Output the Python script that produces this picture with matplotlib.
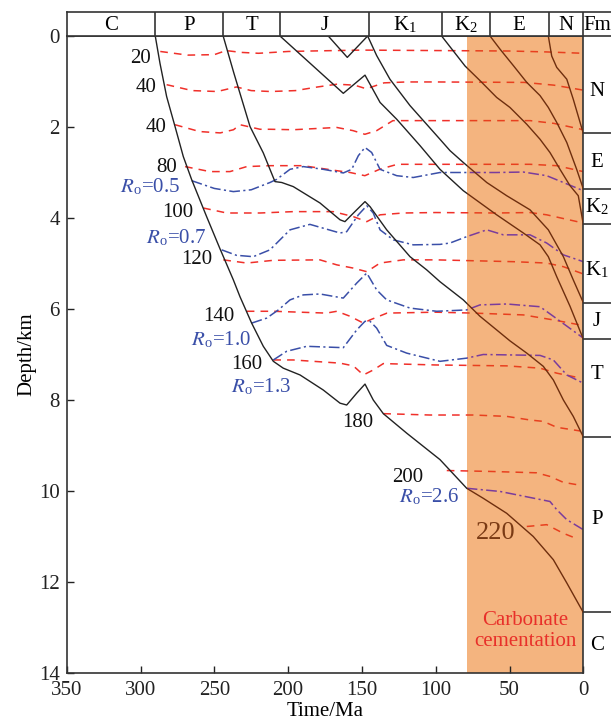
import matplotlib
matplotlib.use("Agg")
from matplotlib import pyplot as plt
from matplotlib.patches import Rectangle

plt.rcParams['font.family'] = ['Liberation Serif', 'DejaVu Serif']
plt.rcParams['mathtext.fontset'] = 'stix'

# ---- data (time in Ma, depth in km) ----
# burial curves
c_top_t = [290, 286.8, 282.3, 276.6, 271, 265.3, 255.2, 246.1, 237.1, 232.6, 224.7, 216.8, 210, 203.3, 191.9, 176.2, 164.8, 160.3, 153.5, 147.9, 142.3, 135.5, 119.6, 97.1, 79, 67.8, 51.9, 33.9, 20.3, 11.2, 0]
c_top_d = [0, 0.6, 1.33, 1.99, 2.65, 3.16, 3.97, 4.68, 5.36, 5.73, 6.31, 6.82, 7.15, 7.3, 7.45, 7.78, 8.07, 8.11, 7.85, 7.65, 8.0, 8.3, 8.73, 9.31, 9.94, 10.16, 10.49, 11.0, 11.51, 12.02, 12.67]
p_top_t = [244, 236.7, 225.8, 216.8, 208.9, 204.3, 196.5, 178.4, 164.8, 161.5, 156, 147.9, 144.5, 133.2, 117.4, 106.1, 97.1, 81.3, 70, 58.7, 49.7, 38.3, 27.1, 20.3, 13.5, 6.8, 0]
p_top_d = [0, 0.82, 1.99, 2.57, 3.2, 3.22, 3.31, 3.67, 4.04, 4.08, 3.9, 3.64, 3.75, 4.26, 4.85, 5.14, 5.4, 5.8, 6.16, 6.46, 6.7, 6.97, 7.26, 7.56, 8.0, 8.36, 8.81]
t_top_t = [205.5, 162.6, 147.9, 137.7, 126.4, 110.6, 97.1, 81.3, 58.7, 40.6, 29.3, 23.7, 18, 9, 0]
t_top_d = [0, 1.26, 0.86, 1.46, 1.83, 2.41, 2.93, 3.4, 3.93, 4.33, 4.59, 4.85, 5.29, 5.94, 6.66]
j_mid_t = [172.8, 159.9, 146.1, 140, 131, 117.4, 97.1, 90.3, 81.3, 65.4, 51.9, 36.1, 23.7, 13.5, 6.8, 0]
j_mid_d = [0, 0.47, 0, 0.43, 0.95, 1.53, 2.27, 2.52, 2.78, 3.22, 3.51, 3.82, 4.26, 4.85, 5.36, 5.86]
k1_top_t = [96, 80.1, 70, 58.7, 49.7, 38.3, 29.3, 22.6, 15.8, 9, 3.4, 0]
k1_top_d = [0, 0.66, 0.98, 1.35, 1.57, 1.94, 2.27, 2.56, 2.93, 3.29, 3.51, 4.14]
k2_top_t = [63.2, 56.4, 47.4, 38.3, 29.3, 23.7, 18, 11.2, 4.5, 0]
k2_top_d = [0, 0.29, 0.65, 1.02, 1.31, 1.57, 1.9, 2.34, 2.93, 3.36]
e_top_t = [23.7, 21.4, 18, 11.2, 6.8, 0]
e_top_d = [0, 0.44, 0.69, 0.95, 1.39, 2.14]

# isotherms (time, depth)
iso_20_t = [286.6, 268, 250, 242, 232, 220, 200, 185, 150, 100, 50, 25, 0]
iso_20_d = [0.34, 0.42, 0.41, 0.32, 0.36, 0.38, 0.34, 0.33, 0.31, 0.32, 0.33, 0.35, 0.38]
iso_40_t = [282.3, 265, 248, 235, 225, 212, 195, 180, 167, 155, 147, 135, 120, 100, 40, 20, 0]
iso_40_d = [1.07, 1.2, 1.22, 1.12, 1.2, 1.22, 1.2, 1.12, 1.06, 1.08, 1.16, 1.03, 1.01, 1.01, 1.02, 1.08, 1.19]
iso_60_t = [276.6, 260, 246, 237, 232.6, 219, 212, 196.5, 167, 156, 148, 140, 129, 100, 36, 20, 0]
iso_60_d = [1.95, 2.1, 2.13, 2.06, 1.95, 2.05, 2.05, 2.06, 2.01, 2.08, 2.16, 2.08, 1.86, 1.86, 1.86, 1.92, 2.06]
iso_80_t = [269.8, 253, 239.4, 228, 212, 190, 167, 158, 148, 138, 126, 100, 36, 18, 0]
iso_80_d = [2.87, 2.98, 2.98, 2.87, 2.85, 2.85, 2.96, 3.0, 3.07, 2.93, 2.82, 2.82, 2.82, 2.85, 2.98]
iso_100_t = [257.5, 241.6, 219, 196.5, 169.4, 155.8, 146.7, 137.7, 122, 100, 58.7, 36, 24.8, 0]
iso_100_d = [3.78, 3.89, 3.89, 3.86, 3.86, 3.97, 4.08, 3.93, 3.89, 3.88, 3.89, 3.88, 3.93, 4.11]
iso_120_t = [243.9, 228, 210, 178.4, 167, 156, 146.7, 137.7, 122, 100, 47.4, 24.8, 13.5, 0]
iso_120_d = [4.92, 4.99, 4.93, 4.92, 5.03, 5.1, 5.18, 4.99, 4.92, 4.92, 4.96, 4.99, 5.07, 5.23]
iso_140_t = [228, 210, 174, 167, 158, 149, 144.5, 133, 100, 74.5, 40.6, 20.3, 2.2, 0]
iso_140_d = [6.05, 6.05, 6.09, 6.05, 6.16, 6.31, 6.24, 6.09, 6.07, 6.09, 6.13, 6.24, 6.35, 6.37]
iso_160_t = [210, 196.5, 164.8, 155.8, 149, 142.3, 135.5, 100, 51.9, 29.3, 18, 4.5]
iso_160_d = [7.12, 7.12, 7.19, 7.25, 7.45, 7.34, 7.2, 7.23, 7.25, 7.3, 7.41, 7.5]
iso_180_t = [135.5, 104, 74.5, 51.9, 36, 27.1, 18, 2.2]
iso_180_d = [8.3, 8.33, 8.33, 8.36, 8.44, 8.47, 8.6, 8.68]
iso_200_t = [92.5, 63.2, 31.6, 22.6, 13.5, 4.5]
iso_200_d = [9.55, 9.57, 9.6, 9.68, 9.81, 9.86]
iso_220_t = [38.3, 24.8, 13.5, 3.4]
iso_220_d = [10.78, 10.74, 10.93, 11.06]

# vitrinite reflectance lines
ro_05_t = [265.3, 250, 237.1, 225, 212.3, 207.7, 198.7, 189.7, 176.2, 162.6, 156.9, 152.4, 147.9, 143.4, 137.7, 126.4, 115.2, 97.1, 76.8, 58.7, 40.6, 24.8, 13.5, 0]
ro_05_d = [3.18, 3.35, 3.42, 3.38, 3.22, 3.15, 2.93, 2.87, 2.93, 3.01, 2.93, 2.63, 2.45, 2.56, 2.93, 3.07, 3.11, 3.0, 3.0, 3.0, 2.99, 3.07, 3.22, 3.4]
ro_07_t = [245, 235, 223.6, 212.3, 198.7, 185.2, 164.8, 160.3, 152.4, 146.7, 142.3, 137.7, 128.7, 115.2, 97.1, 90.3, 79, 65.4, 54.2, 36.1, 24.8, 13.5, 0]
ro_07_d = [4.7, 4.82, 4.85, 4.7, 4.26, 4.14, 4.33, 4.3, 3.93, 3.73, 3.89, 4.26, 4.48, 4.59, 4.58, 4.55, 4.41, 4.26, 4.37, 4.37, 4.55, 4.81, 4.96]
ro_10_t = [224.7, 214.5, 206.6, 198.7, 189.7, 178.4, 162.6, 153.5, 146.7, 140, 133.2, 117.4, 99.3, 79, 70, 51.9, 29.3, 20.3, 0]
ro_10_d = [6.31, 6.2, 6.02, 5.8, 5.69, 5.67, 5.76, 5.43, 5.21, 5.58, 5.8, 5.98, 6.05, 6.02, 5.91, 5.89, 5.95, 6.16, 6.64]
ro_13_t = [210, 201, 187.4, 162.6, 153.5, 147.9, 144.5, 140, 133.2, 119.6, 97.1, 79, 67.8, 29.3, 20.3, 11.2, 0]
ro_13_d = [7.12, 6.93, 6.82, 6.85, 6.46, 6.27, 6.27, 6.42, 6.8, 6.97, 7.15, 7.08, 7.0, 7.02, 7.12, 7.45, 7.63]
ro_26_t = [79, 56.4, 22.6, 18, 11.2, 0]
ro_26_d = [9.94, 10.01, 10.23, 10.41, 10.63, 10.85]

# stratigraphy
period_names = ['C', 'P', 'T', 'J', r'K$_{\mathregular{1}}$', r'K$_{\mathregular{2}}$', 'E', 'N']
period_bounds = [350, 290, 244, 205.5, 145.5, 96, 63.5, 23.5, 0]
fm_names = ['N', 'E', r'K$_{\mathregular{2}}$', r'K$_{\mathregular{1}}$', 'J', 'T', 'P', 'C']
fm_bounds = [2.14, 3.36, 4.14, 5.86, 6.66, 8.81, 12.67]
cement_start = 79

# ---- figure ----
fig = plt.figure(figsize=(6.11, 7.26), dpi=100)
L, R = 66.7/611, 583.3/611
B, T = 1-673/726, 1-36/726
ax = fig.add_axes([L, B, R-L, T-B])
ax.set_xlim(350, 0)
ax.set_ylim(14, 0)

BLACK, BROWN = '#222222', '#6e2e0e'
RED, RED_IN = '#f0302a', '#e8401e'
BLUE, PURPLE = '#3a4fa8', '#7a3c9c'

ax.axvspan(cement_start, 0, color='#f4b47f', lw=0, zorder=0)
out_rect = Rectangle((cement_start, 0), 350-cement_start, 14, transform=ax.transData)
in_rect = Rectangle((0, 0), cement_start, 14, transform=ax.transData)

def two_tone(t, d, c_out, c_in, **kw):
    # same line drawn twice: normal colour outside the shaded band, tinted inside it
    l1, = ax.plot(t, d, color=c_out, **kw)
    l1.set_clip_path(out_rect)
    l2, = ax.plot(t, d, color=c_in, **kw)
    l2.set_clip_path(in_rect)

for t, d in [(c_top_t, c_top_d), (p_top_t, p_top_d), (t_top_t, t_top_d), (j_mid_t, j_mid_d),
             (k1_top_t, k1_top_d), (k2_top_t, k2_top_d), (e_top_t, e_top_d)]:
    two_tone(t, d, BLACK, BROWN, lw=1.0, zorder=3)

for t, d in [(iso_20_t, iso_20_d), (iso_40_t, iso_40_d), (iso_60_t, iso_60_d), (iso_80_t, iso_80_d),
             (iso_100_t, iso_100_d), (iso_120_t, iso_120_d), (iso_140_t, iso_140_d), (iso_160_t, iso_160_d),
             (iso_180_t, iso_180_d), (iso_200_t, iso_200_d), (iso_220_t, iso_220_d)]:
    two_tone(t, d, RED, RED_IN, lw=1.1, dashes=(5, 4), zorder=2)

for t, d in [(ro_05_t, ro_05_d), (ro_07_t, ro_07_d), (ro_10_t, ro_10_d), (ro_13_t, ro_13_d), (ro_26_t, ro_26_d)]:
    two_tone(t, d, BLUE, PURPLE, lw=1.1, dashes=(7, 2.2, 1.4, 2.2), zorder=2)

# labels
fs = 15
iso_labels = [('20', 300.3, 0.50), ('40', 296.3, 1.14), ('40', 289.6, 2.0), ('80', 282.1, 2.90),
              ('100', 274.7, 3.89), ('120', 261.7, 4.92), ('140', 246.8, 6.17), ('160', 227.8, 7.23),
              ('180', 152.6, 8.50), ('200', 118.8, 9.71)]
for s, x, y in iso_labels:
    ax.text(x, y, s, ha='center', va='center', fontsize=fs, color='#111111')
ax.text(59.1, 10.92, '220', ha='center', va='center', fontsize=19, color='#7a3a14')

ro_labels = [('0.5', 293.3, 3.31), ('0.7', 275.6, 4.44), ('1.0', 245.1, 6.68), ('1.3', 218, 7.71), ('2.6', 104.5, 10.13)]
for s, x, y in ro_labels:
    ax.text(x, y, r'$R_{\mathregular{o}}$=' + s, ha='center', va='center', fontsize=fs, color=BLUE)

ax.text(39.5, 13.08, 'Carbonate\ncementation', ha='center', va='center', fontsize=fs,
        color='#e8302a', linespacing=1.1)

ax.set_xticks(range(350, -1, -50))
ax.set_yticks(range(0, 15, 2))
ax.tick_params(direction='in', length=5, width=1, labelsize=fs, colors='#222222')
ax.tick_params(axis='x', pad=6)
ax.tick_params(axis='y', pad=5)
ax.set_xlabel('Time/Ma', fontsize=fs, labelpad=1)
ax.set_ylabel('Depth/km', fontsize=fs, labelpad=2)
for sp in ax.spines.values():
    sp.set_linewidth(1.2)
    sp.set_color('#333333')

# top period band
x_right = 350 - (611 - 66.7) / (516.6 / 350)
ax_top = fig.add_axes([L, T, 1-L, 24/726])
ax_top.set_xlim(350, x_right)
ax_top.set_ylim(0, 1)
ax_top.set_xticks([]); ax_top.set_yticks([])
ax_top.spines['right'].set_visible(False)
for sp in ax_top.spines.values():
    sp.set_linewidth(1.2)
    sp.set_color('#333333')
for b in period_bounds[1:]:
    ax_top.axvline(b, color='#333333', lw=1.2)
for i, name in enumerate(period_names):
    ax_top.text((period_bounds[i] + period_bounds[i+1]) / 2, 0.45, name, ha='center', va='center', fontsize=fs)
ax_top.text((0 + x_right) / 2, 0.45, 'Fm', ha='center', va='center', fontsize=fs)

# formation column
ax_fm = fig.add_axes([R, B, 1-R, T-B])
ax_fm.set_ylim(14, 0)
ax_fm.set_xlim(0, 1)
ax_fm.axis('off')
for b in fm_bounds:
    ax_fm.axhline(b, color='#333333', lw=1.2)
fm_label_y = [1.23, 2.79, 3.75, 5.14, 6.28, 7.44, 10.63, 13.4]
for name, y in zip(fm_names, fm_label_y):
    ax_fm.text(0.5, y, name, ha='center', va='center', fontsize=fs)

fig.savefig('out.png', dpi=100)
